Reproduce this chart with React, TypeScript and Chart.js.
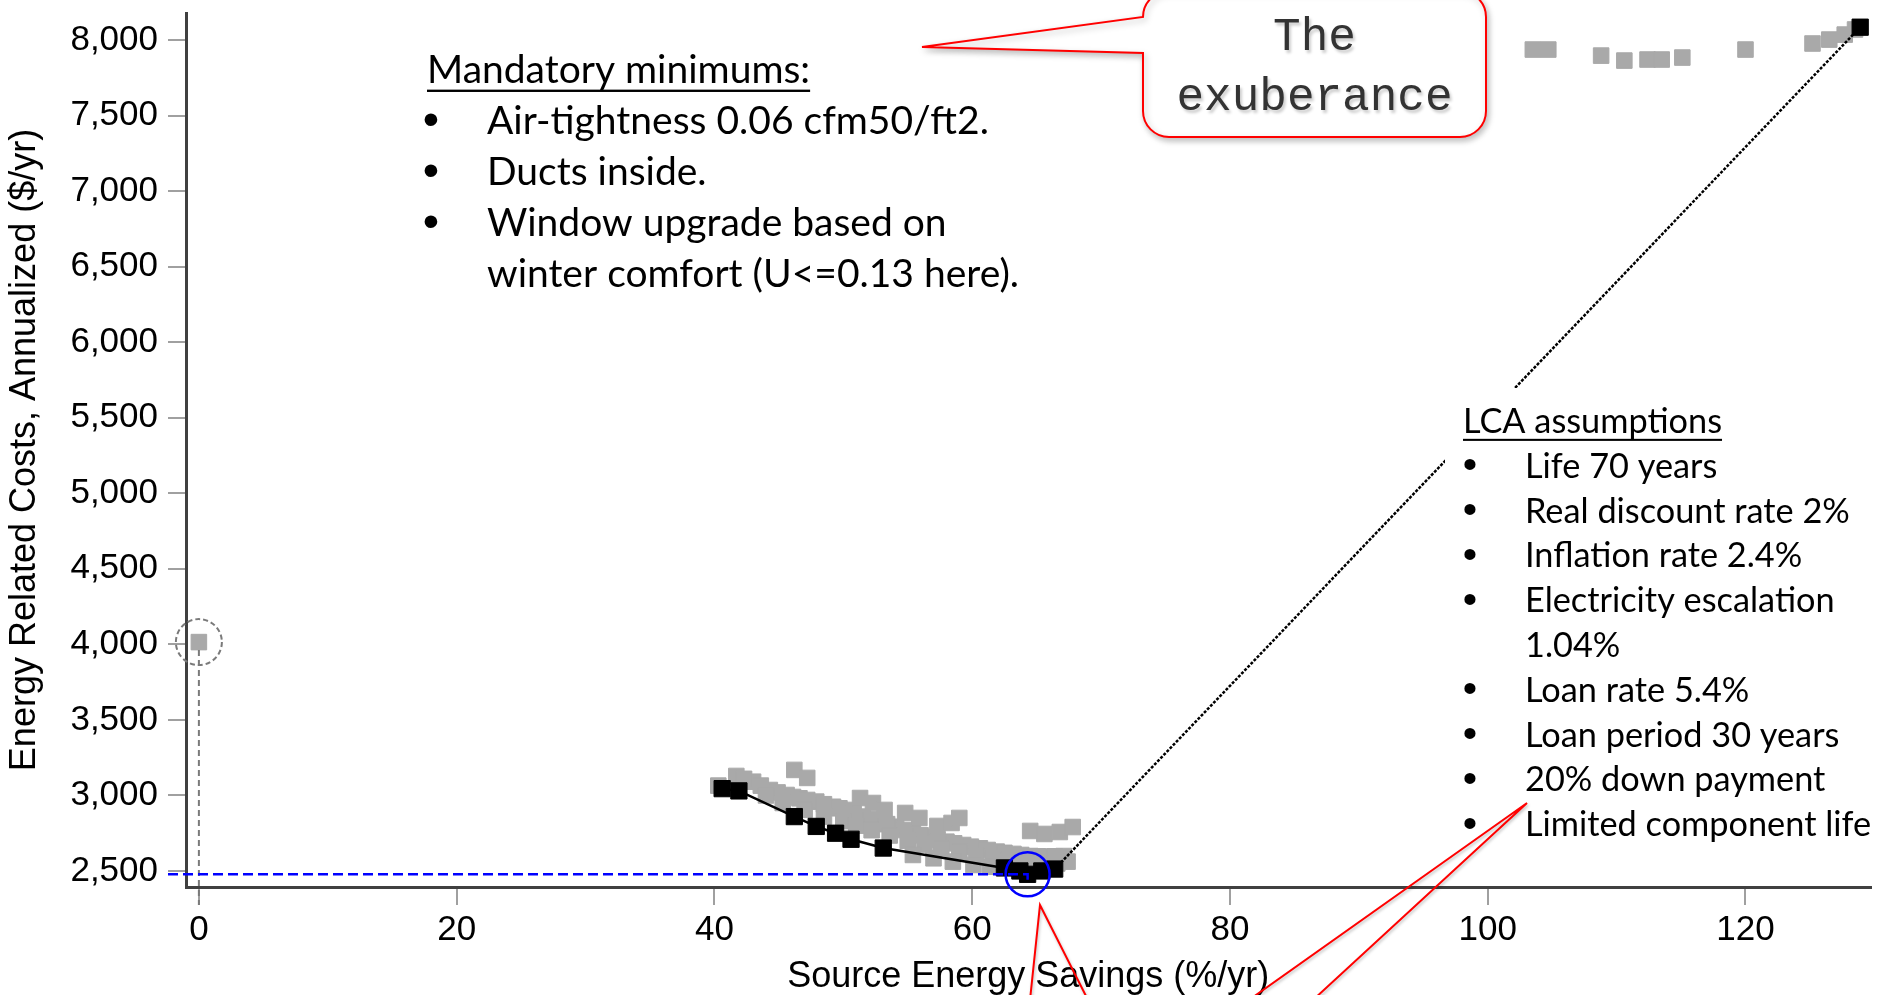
import React, { useEffect, useRef } from "react";
import { Chart, registerables } from "chart.js";

Chart.register(...registerables);

const W = 1883;
const H = 995;

// Axis ticks
const xTickValues = [0, 20, 40, 60, 80, 100, 120];
const yTickValues = [2500, 3000, 3500, 4000, 4500, 5000, 5500, 6000, 6500, 7000, 7500, 8000];

// Least-cost path through the option space (source savings %/yr, annualized cost $/yr)
const pathSavings = [40.6, 41.9, 46.2, 47.9, 49.4, 50.6, 53.1, 62.5, 63.7, 64.3, 65.4, 66.4, 128.9];
const pathCost = [3045, 3030, 2860, 2795, 2750, 2710, 2652, 2520, 2500, 2478, 2500, 2513, 8085];

// All other simulated options
const optionSavings = [
  40.3, 41.7, 43.0, 44.3, 45.6, 46.6, 47.9, 49.2, 50.2, 51.5, 52.8, 54.1, 55.4, 56.7, 58.0, 59.3, 60.6,
  61.9, 63.2, 64.5, 65.8, 67.1, 67.4,
  42.3, 43.6, 44.9, 46.1, 47.2, 48.5, 49.7, 50.8, 52.1, 53.4, 54.7, 56.0, 57.3, 58.6, 59.9, 61.2, 62.5,
  63.8, 65.1, 66.4,
  44.0, 45.3, 47.0, 48.5, 50.0, 51.0, 52.2, 53.6, 55.0, 56.3, 57.6, 59.0, 60.3, 61.6, 62.8, 64.0, 65.2, 66.6,
  55.4, 57.0, 58.5, 60.1, 61.4,
  46.2, 47.2,
  51.3, 52.3, 53.2,
  54.8, 55.9, 57.3, 58.4, 59.0,
  64.5, 65.6, 66.8, 67.8,
  103.5, 104.7, 108.8, 110.6, 112.4, 113.5, 115.1, 120.0, 125.2, 126.5, 127.7, 128.5,
];
const optionCost = [
  3065, 3129, 3091, 3036, 3003, 2981, 2959, 2925, 2904, 2860, 2826, 2793, 2749, 2723, 2694, 2672, 2650,
  2628, 2613, 2599, 2595, 2599, 2562,
  3110, 3065, 3020, 2990, 2970, 2942, 2915, 2882, 2843, 2810, 2771, 2736, 2708, 2683, 2661, 2639, 2620,
  2606, 2597, 2597,
  3000, 2950, 2905, 2860, 2830, 2800, 2770, 2735, 2700, 2675, 2650, 2625, 2600, 2580, 2565, 2555, 2550, 2550,
  2606, 2584, 2562, 2540, 2528,
  3169, 3116,
  2983, 2950, 2904,
  2884, 2851, 2798, 2818, 2851,
  2765, 2745, 2758, 2791,
  7937, 7937, 7897, 7864, 7871, 7871, 7884, 7937, 7977, 8003, 8036, 8070,
];

// Starting design
const baseSavings = [0];
const baseCost = [4015];

const mandatoryTitle = "Mandatory minimums:";
const mandatoryItems = [
  ["Air-tightness 0.06 cfm50/ft2."],
  ["Ducts inside."],
  ["Window upgrade based on", "winter comfort (U<=0.13 here)."],
];
const lcaTitle = "LCA assumptions";
const lcaItems = [
  ["Life 70 years"],
  ["Real discount rate 2%"],
  ["Inflation rate 2.4%"],
  ["Electricity escalation", "1.04%"],
  ["Loan rate 5.4%"],
  ["Loan period 30 years"],
  ["20% down payment"],
  ["Limited component life"],
];
const calloutLines = ["The", "exuberance"];

const toPoints = (xs: number[], ys: number[]) => xs.map((v, i) => ({ x: v, y: ys[i] }));

function drawBlock(
  ctx: CanvasRenderingContext2D,
  title: string,
  items: string[][],
  left: number,
  firstBaseline: number,
  bulletX: number,
  textX: number,
  lineGap: number,
  size: number
) {
  ctx.fillStyle = "#000";
  ctx.textBaseline = "alphabetic";
  ctx.textAlign = "left";
  ctx.font = `${size}px Lato`;
  ctx.fillText(title, left, firstBaseline);
  const tw = ctx.measureText(title).width;
  ctx.fillRect(left, firstBaseline + size * 0.17, tw, Math.max(2, size * 0.06));
  let b = firstBaseline;
  items.forEach((lines) => {
    lines.forEach((line, k) => {
      b += lineGap;
      if (k === 0) {
        ctx.font = `${size * 1.2}px "Liberation Sans"`;
        ctx.textAlign = "center";
        ctx.fillText("\u2022", bulletX, b + size * 0.02);
        ctx.textAlign = "left";
        ctx.font = `${size}px Lato`;
      }
      ctx.fillText(line, textX, b);
    });
  });
}

const overlayPlugin = {
  id: "overlay",
  afterDatasetsDraw(chart: any) {
    const { ctx, chartArea } = chart;
    const xs = chart.scales.x;
    const ys = chart.scales.y;
    ctx.save();

    // starting design marker
    const bx = xs.getPixelForValue(baseSavings[0]);
    const by = ys.getPixelForValue(baseCost[0]);
    ctx.strokeStyle = "#7a7a7a";
    ctx.lineWidth = 2;
    ctx.setLineDash([6, 4]);
    ctx.beginPath();
    ctx.moveTo(bx, by + 8);
    ctx.lineTo(bx, chartArea.bottom + 18);
    ctx.stroke();
    ctx.setLineDash([5, 3]);
    ctx.beginPath();
    ctx.arc(bx, by, 23, 0, Math.PI * 2);
    ctx.stroke();

    // least-cost point
    let mi = 0;
    pathCost.forEach((c, i) => {
      if (c < pathCost[mi]) mi = i;
    });
    const mx = xs.getPixelForValue(pathSavings[mi]);
    const my = ys.getPixelForValue(pathCost[mi]);
    ctx.strokeStyle = "#0000ff";
    ctx.lineWidth = 2.5;
    ctx.setLineDash([10, 5]);
    ctx.beginPath();
    ctx.moveTo(chartArea.left - 18, my);
    ctx.lineTo(mx, my);
    ctx.lineTo(mx, chartArea.bottom - 4);
    ctx.stroke();
    ctx.setLineDash([]);
    ctx.beginPath();
    ctx.arc(mx, my, 22, 0, Math.PI * 2);
    ctx.stroke();

    // assumptions panel
    ctx.fillStyle = "#fff";
    ctx.fillRect(1445, 388, W - 1445, 462);
    drawBlock(ctx, lcaTitle, lcaItems, 1463, 433, 1470, 1525, 44.8, 34.3);
    drawBlock(ctx, mandatoryTitle, mandatoryItems, 427, 83, 431, 487, 51, 39);

    // callout box
    const L = 1143, T = -9, R = 1486, B = 137, r = 26;
    ctx.save();
    ctx.shadowColor = "rgba(0,0,0,0.25)";
    ctx.shadowBlur = 6;
    ctx.shadowOffsetX = 2;
    ctx.shadowOffsetY = 3;
    ctx.beginPath();
    ctx.moveTo(L + r, T);
    ctx.lineTo(R - r, T);
    ctx.arcTo(R, T, R, T + r, r);
    ctx.lineTo(R, B - r);
    ctx.arcTo(R, B, R - r, B, r);
    ctx.lineTo(L + r, B);
    ctx.arcTo(L, B, L, B - r, r);
    ctx.lineTo(L, 53);
    ctx.lineTo(922, 47);
    ctx.lineTo(L, 17);
    ctx.arcTo(L, T, L + r, T, r);
    ctx.closePath();
    ctx.fillStyle = "#fff";
    ctx.fill();
    ctx.strokeStyle = "#ff0000";
    ctx.lineWidth = 2;
    ctx.stroke();
    ctx.restore();

    ctx.save();
    ctx.shadowColor = "rgba(0,0,0,0.2)";
    ctx.shadowBlur = 3;
    ctx.shadowOffsetX = 2;
    ctx.shadowOffsetY = 3;
    ctx.fillStyle = "#333";
    ctx.font = '46px "Liberation Mono"';
    ctx.textAlign = "center";
    ctx.textBaseline = "alphabetic";
    ctx.fillText(calloutLines[0], (L + R) / 2, 50);
    ctx.fillText(calloutLines[1], (L + R) / 2, 110);
    ctx.restore();

    // pointers from callouts below the chart
    ctx.save();
    ctx.shadowColor = "rgba(0,0,0,0.25)";
    ctx.shadowBlur = 3;
    ctx.shadowOffsetX = 1;
    ctx.shadowOffsetY = 2;
    ctx.strokeStyle = "#ff0000";
    ctx.lineWidth = 2;
    ctx.beginPath();
    ctx.moveTo(1030, 1000);
    ctx.lineTo(1040, 905);
    ctx.lineTo(1088, 1000);
    ctx.moveTo(1249, 1000);
    ctx.lineTo(1527, 803);
    ctx.lineTo(1313, 1000);
    ctx.stroke();
    ctx.restore();

    ctx.restore();
  },
};

export default function App() {
  const ref = useRef<HTMLCanvasElement | null>(null);

  useEffect(() => {
    document.body.style.margin = "0";
    document.body.style.overflow = "hidden";
    const canvas = ref.current;
    if (!canvas) return;
    const family = '"Liberation Sans", Arial, sans-serif';
    const axisFont = { family, size: 35 };
    const chart = new Chart(canvas, {
      type: "scatter",
      data: {
        datasets: [
          {
            label: "Least-cost path",
            data: toPoints(pathSavings, pathCost),
            showLine: true,
            borderColor: "#000",
            borderWidth: 3,
            backgroundColor: "#000",
            pointStyle: "rect",
            pointRadius: 11.5,
            pointBorderWidth: 1,
            pointBorderColor: "#000",
            pointBackgroundColor: "#000",
            segment: {
              borderDash: (c: any) => (c.p1DataIndex === pathSavings.length - 1 ? [3, 1.5] : undefined),
              borderWidth: (c: any) => (c.p1DataIndex === pathSavings.length - 1 ? 2.5 : 2.5),
            },
            order: 0,
          },
          {
            label: "Options",
            data: toPoints(optionSavings, optionCost),
            showLine: false,
            pointStyle: "rect",
            pointRadius: 11,
            pointBorderWidth: 1,
            pointBorderColor: "#a9a9a9",
            pointBackgroundColor: "#a9a9a9",
            order: 1,
          },
          {
            label: "Starting design",
            data: toPoints(baseSavings, baseCost),
            showLine: false,
            pointStyle: "rect",
            pointRadius: 11,
            pointBorderWidth: 1,
            pointBorderColor: "#a9a9a9",
            pointBackgroundColor: "#a9a9a9",
            order: 2,
          },
        ],
      },
      options: {
        responsive: false,
        animation: false,
        devicePixelRatio: 1,
        layout: { padding: { top: 13, right: 12, left: 0, bottom: 0 } },
        plugins: { legend: { display: false }, tooltip: { enabled: false } },
        scales: {
          x: {
            type: "linear",
            min: -1,
            max: 129.7,
            afterFit: (s: any) => {
              s.height = 108;
              s.paddingLeft = 0;
              s.paddingRight = 0;
            },
            afterBuildTicks: (s: any) => {
              s.ticks = xTickValues.map((v) => ({ value: v }));
            },
            border: { display: true, color: "#404040", width: 3 },
            grid: { drawOnChartArea: false, drawTicks: true, tickLength: 18, color: "#a0a0a0", lineWidth: 2 },
            ticks: { color: "#000", font: axisFont, padding: 4, autoSkip: false, maxRotation: 0 },
            title: {
              display: true,
              text: "Source Energy Savings (%/yr)",
              color: "#000",
              font: { family, size: 36, lineHeight: 1 },
              padding: { top: 0, bottom: 0 },
            },
          },
          y: {
            type: "linear",
            min: 2394,
            max: 8179,
            afterFit: (s: any) => {
              s.width = 186;
              s.paddingTop = 0;
              s.paddingBottom = 0;
            },
            afterBuildTicks: (s: any) => {
              s.ticks = yTickValues.map((v) => ({ value: v }));
            },
            border: { display: true, color: "#404040", width: 3 },
            grid: { drawOnChartArea: false, drawTicks: true, tickLength: 18, color: "#a0a0a0", lineWidth: 2 },
            ticks: {
              color: "#000",
              font: axisFont,
              padding: 10,
              callback: (v: any) => Number(v).toLocaleString("en-US"),
            },
            title: {
              display: true,
              text: "Energy Related Costs, Annualized ($/yr)",
              color: "#000",
              font: { family, size: 36 },
              padding: { top: 3, bottom: 0 },
            },
          },
        },
      },
      plugins: [overlayPlugin],
    });
    return () => chart.destroy();
  }, []);

  return (
    <div style={{ position: "absolute", left: 0, top: 0, width: W, height: H, background: "#fff" }}>
      <canvas ref={ref} width={W} height={H} style={{ display: "block" }} />
    </div>
  );
}
